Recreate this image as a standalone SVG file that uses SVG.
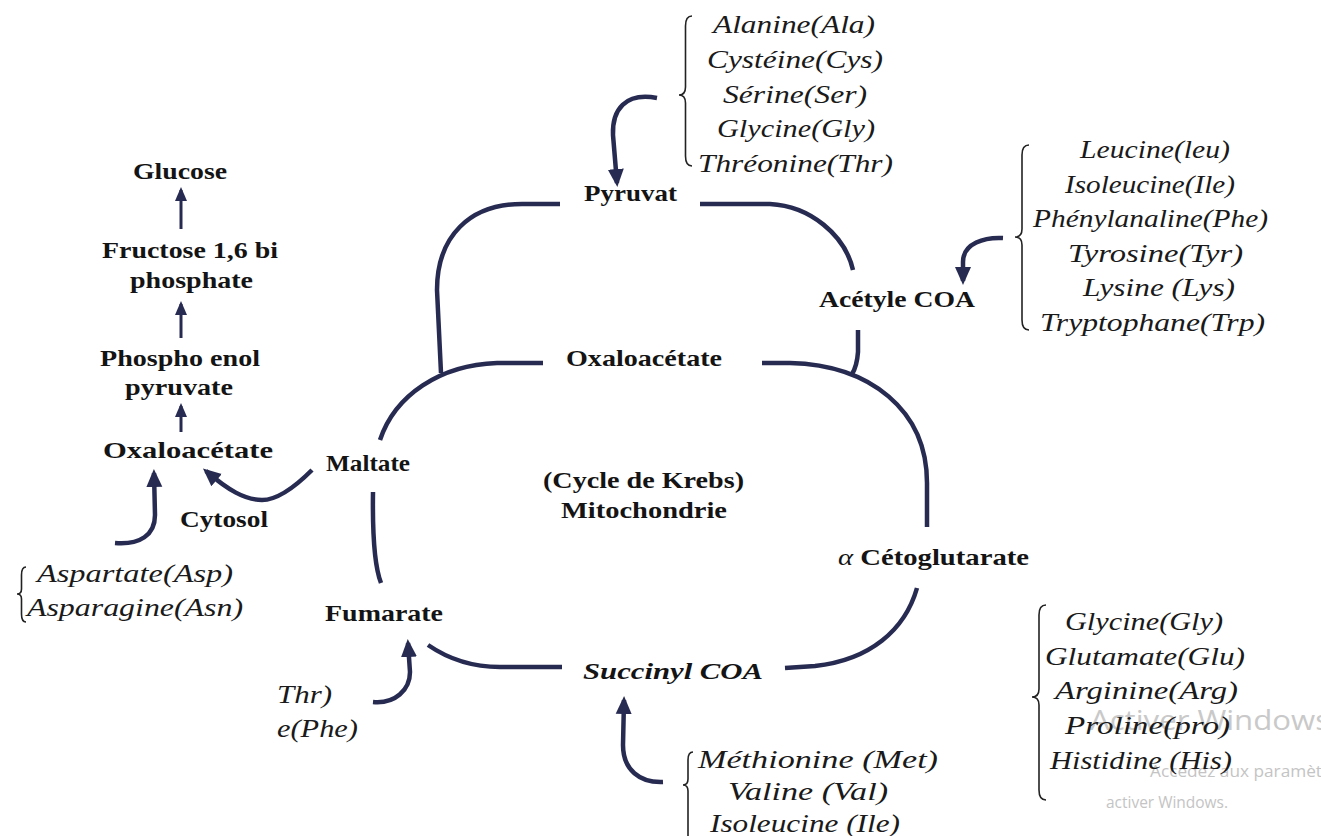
<svg xmlns="http://www.w3.org/2000/svg" width="1321" height="836" viewBox="0 0 1321 836">
<defs>
<style>
.b{font-family:"Liberation Serif","Times New Roman",serif;font-weight:bold;font-size:24px;fill:#141414}
.i{font-family:"Liberation Serif","Times New Roman",serif;font-style:italic;font-size:25px;fill:#1a1a1a}
.bi{font-family:"Liberation Serif","Times New Roman",serif;font-style:italic;font-weight:bold;font-size:24px;fill:#141414}
.w1{font-family:"Open Sans","Liberation Sans",sans-serif;font-size:27px;fill:#c9c9c9}
.w2{font-family:"Open Sans","Liberation Sans",sans-serif;font-size:17px;fill:#c4c4c4}
.ln{fill:none;stroke:#272b52;stroke-width:4.5;stroke-linecap:butt}
.ar{fill:none;stroke:#272b52;stroke-width:4.5}
.th{fill:none;stroke:#272b52;stroke-width:3}
.br{fill:none;stroke:#222;stroke-width:1.6}
</style>
<marker id="ah" markerUnits="userSpaceOnUse" markerWidth="18" markerHeight="18" viewBox="0 0 18 18" refX="14" refY="9" orient="auto">
<path d="M0,1 L18,9 L0,17 Z" fill="#272b52"/>
</marker>
<marker id="ah2" markerUnits="userSpaceOnUse" markerWidth="14" markerHeight="14" viewBox="0 0 14 14" refX="11" refY="7" orient="auto">
<path d="M0,1 L14,7 L0,13 Z" fill="#272b52"/>
</marker>
</defs>
<rect width="1321" height="836" fill="#ffffff"/>

<g id="watermark">
<text class="w1" x="1090" y="730" textLength="240" lengthAdjust="spacingAndGlyphs">Activer Windows</text>
<text class="w2" x="1150" y="777" textLength="172" lengthAdjust="spacingAndGlyphs">Accédez aux paramèt</text>
<text class="w2" x="1106" y="808" textLength="122" lengthAdjust="spacingAndGlyphs">activer Windows.</text>
</g>

<g id="connectors">
<path class="ln" d="M560,204 L522,204 C470,204 437,236 437,290 L441,373"/>
<path class="ln" d="M700,204 L770,204 C810,206 845,235 853,270"/>
<path class="ln" d="M858,330 L858,352 Q857,366 852,374"/>
<path class="ln" d="M543,363 L497,363 C440,365 395,395 380,440"/>
<path class="ln" d="M762,363 L790,363 C870,365 927,410 927,483 L927,527"/>
<path class="ln" d="M917,588 C905,630 870,660 815,666 L785,668"/>
<path class="ln" d="M428,645 Q460,667 500,667 L562,667"/>
<path class="ln" d="M373,492 Q372,560 381,583"/>
<path class="ar" d="M657,98 C625,92 612,110 613,135 L617,183" marker-end="url(#ah)"/>
<path class="ar" d="M1003,238 C985,237 963,243 963,262 L963,281" marker-end="url(#ah)"/>
<path class="ar" d="M312,470 C290,492 275,500 262,500 C245,500 228,490 206,471" marker-end="url(#ah)"/>
<path class="ar" d="M115,543 C140,545 155,535 155,515 L154,473" marker-end="url(#ah)"/>
<path class="ar" d="M373,702 C395,704 410,690 410,672 L408,643" marker-end="url(#ah)"/>
<path class="ar" d="M663,782 C640,783 623,770 623,745 L624,700" marker-end="url(#ah)"/>
<path class="th" d="M181,229 L181,190" marker-end="url(#ah2)"/>
<path class="th" d="M181,338 L181,304" marker-end="url(#ah2)"/>
<path class="th" d="M181,432 L181,406" marker-end="url(#ah2)"/>
</g>

<g id="braces">
<path class="br" d="M692,16 Q685.5,16 685.5,26 L685.5,87 Q685.5,95 679,95 Q685.5,95 685.5,103 L685.5,156 Q685.5,166 692,166"/>
<path class="br" d="M1029,145 Q1022,145 1022,155 L1022,229 Q1022,237 1015,237 Q1022,237 1022,245 L1022,320 Q1022,330 1029,330"/>
<path class="br" d="M1046,605 Q1039,605 1039,615 L1039,689 Q1039,697 1032,697 Q1039,697 1039,705 L1039,790 Q1039,800 1046,800"/>
<path class="br" d="M693,752 Q688,752 688,760 L688,779 Q688,785 683,785 Q688,785 688,791 L688,840"/>
<path class="br" d="M26,567 Q21.5,567 21.5,575 L21.5,589 Q21.5,594 17,594 Q21.5,594 21.5,599 L21.5,614 Q21.5,622 26,622"/>
</g>

<g id="n-glucose"><text class="b" x="133" y="179" textLength="94" lengthAdjust="spacingAndGlyphs">Glucose</text></g>
<g id="n-fructose"><text class="b" x="102" y="258" textLength="176" lengthAdjust="spacingAndGlyphs">Fructose 1,6 bi</text><text class="b" x="130" y="288" textLength="123" lengthAdjust="spacingAndGlyphs">phosphate</text></g>
<g id="n-pep"><text class="b" x="100" y="366" textLength="160" lengthAdjust="spacingAndGlyphs">Phospho enol</text><text class="b" x="125" y="395" textLength="108" lengthAdjust="spacingAndGlyphs">pyruvate</text></g>
<g id="n-oxalo-cyto"><text class="b" x="103" y="458" textLength="170" lengthAdjust="spacingAndGlyphs">Oxaloacétate</text></g>
<g id="n-cytosol"><text class="b" x="180" y="527" textLength="88" lengthAdjust="spacingAndGlyphs">Cytosol</text></g>
<g id="n-maltate"><text class="b" x="326" y="471" textLength="84" lengthAdjust="spacingAndGlyphs">Maltate</text></g>
<g id="n-fumarate"><text class="b" x="325" y="621" textLength="118" lengthAdjust="spacingAndGlyphs">Fumarate</text></g>
<g id="n-pyruvat"><text class="b" x="584" y="201" textLength="93" lengthAdjust="spacingAndGlyphs">Pyruvat</text></g>
<g id="n-acetyl"><text class="b" x="819" y="307" textLength="156" lengthAdjust="spacingAndGlyphs">Acétyle COA</text></g>
<g id="n-oxalo"><text class="b" x="566" y="366" textLength="156" lengthAdjust="spacingAndGlyphs">Oxaloacétate</text></g>
<g id="n-krebs"><text class="b" x="543" y="488" textLength="201" lengthAdjust="spacingAndGlyphs">(Cycle de Krebs)</text><text class="b" x="561" y="518" textLength="166" lengthAdjust="spacingAndGlyphs">Mitochondrie</text></g>
<g id="n-ceto"><text class="b" x="838" y="565" textLength="191" lengthAdjust="spacingAndGlyphs"><tspan font-style="italic" font-weight="normal">α</tspan> Cétoglutarate</text></g>
<g id="n-succinyl"><text class="bi" x="583" y="679" textLength="180" lengthAdjust="spacingAndGlyphs">Succinyl COA</text></g>

<g id="aa-pyruvat">
<text class="i" x="713" y="33" textLength="162" lengthAdjust="spacingAndGlyphs">Alanine(Ala)</text>
<text class="i" x="707" y="68" textLength="176" lengthAdjust="spacingAndGlyphs">Cystéine(Cys)</text>
<text class="i" x="723" y="103" textLength="144" lengthAdjust="spacingAndGlyphs">Sérine(Ser)</text>
<text class="i" x="717" y="137" textLength="158" lengthAdjust="spacingAndGlyphs">Glycine(Gly)</text>
<text class="i" x="698" y="172" textLength="195" lengthAdjust="spacingAndGlyphs">Thréonine(Thr)</text>
</g>
<g id="aa-acetyl">
<text class="i" x="1080" y="158" textLength="150" lengthAdjust="spacingAndGlyphs">Leucine(leu)</text>
<text class="i" x="1065" y="193" textLength="170" lengthAdjust="spacingAndGlyphs">Isoleucine(Ile)</text>
<text class="i" x="1033" y="227" textLength="235" lengthAdjust="spacingAndGlyphs">Phénylanaline(Phe)</text>
<text class="i" x="1068" y="262" textLength="175" lengthAdjust="spacingAndGlyphs">Tyrosine(Tyr)</text>
<text class="i" x="1083" y="296" textLength="152" lengthAdjust="spacingAndGlyphs">Lysine (Lys)</text>
<text class="i" x="1040" y="331" textLength="225" lengthAdjust="spacingAndGlyphs">Tryptophane(Trp)</text>
</g>
<g id="aa-ceto">
<text class="i" x="1065" y="630" textLength="158" lengthAdjust="spacingAndGlyphs">Glycine(Gly)</text>
<text class="i" x="1045" y="665" textLength="200" lengthAdjust="spacingAndGlyphs">Glutamate(Glu)</text>
<text class="i" x="1055" y="699" textLength="183" lengthAdjust="spacingAndGlyphs">Arginine(Arg)</text>
<text class="i" x="1065" y="734" textLength="165" lengthAdjust="spacingAndGlyphs">Proline(pro)</text>
<text class="i" x="1050" y="769" textLength="182" lengthAdjust="spacingAndGlyphs">Histidine (His)</text>
</g>
<g id="aa-succinyl">
<text class="i" x="698" y="768" textLength="240" lengthAdjust="spacingAndGlyphs">Méthionine (Met)</text>
<text class="i" x="728" y="800" textLength="160" lengthAdjust="spacingAndGlyphs">Valine (Val)</text>
<text class="i" x="710" y="832" textLength="190" lengthAdjust="spacingAndGlyphs">Isoleucine (Ile)</text>
</g>
<g id="aa-oxalo">
<text class="i" x="37" y="582" textLength="196" lengthAdjust="spacingAndGlyphs">Aspartate(Asp)</text>
<text class="i" x="27" y="616" textLength="216" lengthAdjust="spacingAndGlyphs">Asparagine(Asn)</text>
</g>
<g id="aa-fumarate">
<text class="i" x="277" y="703" textLength="55" lengthAdjust="spacingAndGlyphs">Thr)</text>
<text class="i" x="277" y="737" textLength="81" lengthAdjust="spacingAndGlyphs">e(Phe)</text>
</g>
</svg>
